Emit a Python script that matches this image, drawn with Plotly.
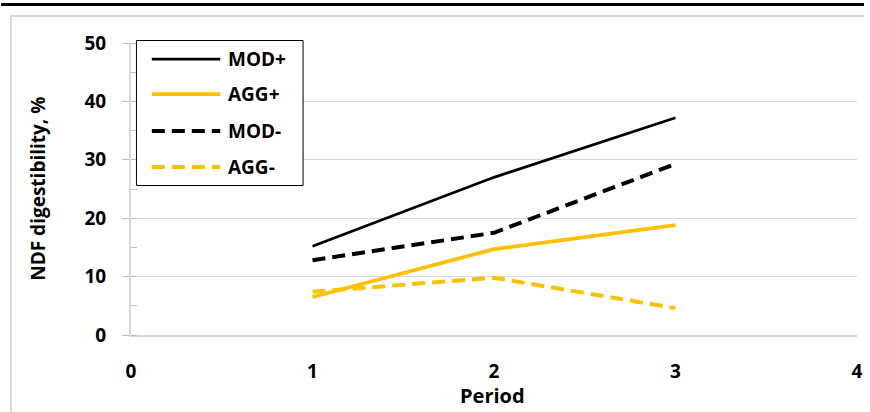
import plotly.graph_objects as go

periods = [1, 2, 3]
mod_plus = [15.2, 27.0, 37.2]
agg_plus = [6.5, 14.7, 18.8]
mod_minus = [12.8, 17.5, 29.3]
agg_minus = [7.4, 9.8, 4.6]

series_names = ["MOD+", "AGG+", "MOD-", "AGG-"]
series_values = [mod_plus, agg_plus, mod_minus, agg_minus]
series_colors = ["#000000", "#FFC000", "#000000", "#FFC000"]
series_dash = ["solid", "solid", "13px,7px", "13px,7px"]
series_width = [2.75, 3.75, 4, 4]

x_ticks = [0, 1, 2, 3, 4]
y_ticks = [0, 10, 20, 30, 40, 50]

FONT = "Open Sans"
W, H = 870, 412
L, R, T, B = 131, 7, 43, 77
pw, ph = W - L - R, H - T - B


def px_to_paper_x(px):
    return (px - L) / pw


def px_to_paper_y(py):
    return (H - B - py) / ph


fig = go.Figure()
for name, vals, col, dash, wd in zip(series_names, series_values, series_colors, series_dash, series_width):
    fig.add_trace(go.Scatter(x=periods, y=vals, mode="lines", name=name,
                             line=dict(color=col, dash=dash, width=wd),
                             showlegend=False, hoverinfo="skip"))

shapes = []
annotations = []

# outer decoration: thick black rule and light gray frame
shapes.append(dict(type="line", xref="paper", yref="paper",
                   x0=px_to_paper_x(0), x1=px_to_paper_x(W),
                   y0=px_to_paper_y(4.5), y1=px_to_paper_y(4.5),
                   line=dict(color="#000000", width=3)))
shapes.append(dict(type="line", xref="paper", yref="paper",
                   x0=px_to_paper_x(9), x1=px_to_paper_x(W),
                   y0=px_to_paper_y(16), y1=px_to_paper_y(16),
                   line=dict(color="#d9d9d9", width=2)))
shapes.append(dict(type="line", xref="paper", yref="paper",
                   x0=px_to_paper_x(10), x1=px_to_paper_x(10),
                   y0=px_to_paper_y(16), y1=px_to_paper_y(H),
                   line=dict(color="#d9d9d9", width=2)))

# legend box
shapes.append(dict(type="rect", xref="paper", yref="paper",
                   x0=px_to_paper_x(136.5), x1=px_to_paper_x(304.5),
                   y0=px_to_paper_y(40.5), y1=px_to_paper_y(185.5),
                   line=dict(color="#000000", width=1), fillcolor="white"))
legend_rows = [59, 94, 131, 167]
for name, col, dash, wd, yy in zip(series_names, series_colors, series_dash, series_width, legend_rows):
    shapes.append(dict(type="line", xref="paper", yref="paper",
                       x0=px_to_paper_x(152), x1=px_to_paper_x(221),
                       y0=px_to_paper_y(yy), y1=px_to_paper_y(yy),
                       line=dict(color=col, dash=dash, width=wd)))
    annotations.append(dict(xref="paper", yref="paper",
                            x=px_to_paper_x(227), y=px_to_paper_y(yy),
                            xanchor="left", yanchor="middle", showarrow=False,
                            text="<b>%s</b>" % name,
                            font=dict(family=FONT, size=19, color="#000000")))

# y axis title
annotations.append(dict(xref="paper", yref="paper",
                        x=px_to_paper_x(37), y=px_to_paper_y(189),
                        xanchor="center", yanchor="middle", showarrow=False,
                        textangle=-90, text="<b>NDF digestibility, %</b>",
                        font=dict(family=FONT, size=19, color="#000000")))
# x axis title
annotations.append(dict(xref="paper", yref="paper",
                        x=px_to_paper_x(495), y=px_to_paper_y(395),
                        xanchor="center", yanchor="middle", showarrow=False,
                        text="<b>Period</b>",
                        font=dict(family=FONT, size=20, color="#000000")))

fig.update_layout(
    width=W, height=H,
    margin=dict(l=L, r=R, t=T, b=B, pad=0),
    paper_bgcolor="white", plot_bgcolor="white",
    shapes=shapes, annotations=annotations,
    showlegend=False, hovermode=False,
    xaxis=dict(range=[0, 4], tickvals=x_ticks, ticktext=["<b>%d</b>" % v for v in x_ticks],
               showgrid=False, zeroline=False, showline=True, linecolor="#d9d9d9", linewidth=2,
               ticks="outside", ticklen=18, tickcolor="rgba(0,0,0,0)",
               tickfont=dict(family=FONT, size=19, color="#000000")),
    yaxis=dict(range=[0, 50], tickvals=y_ticks, ticktext=["<b>%d</b>" % v for v in y_ticks],
               showgrid=True, gridcolor="#d9d9d9", gridwidth=1, zeroline=False,
               showline=True, linecolor="#d9d9d9", linewidth=2,
               ticks="outside", ticklen=7, tickcolor="#bfbfbf", ticklabelstandoff=12,
               minor=dict(dtick=5, tick0=5, ticks="inside", ticklen=6, tickcolor="#bfbfbf", showgrid=False),
               tickfont=dict(family=FONT, size=19, color="#000000")),
)

fig.write_html("out.html", config={"displayModeBar": False, "staticPlot": True},
               post_script="document.body.style.margin='0px';document.body.style.overflow='hidden';")
